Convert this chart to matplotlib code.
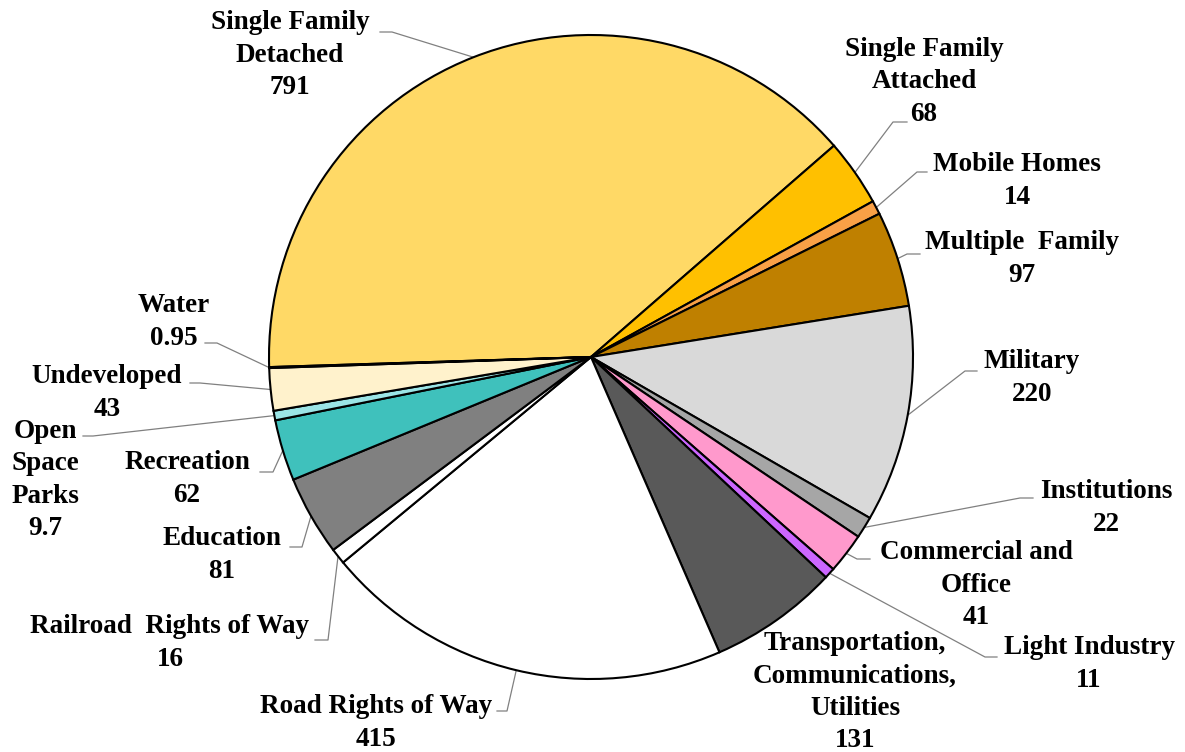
import matplotlib
matplotlib.use("Agg")
import numpy as np
import matplotlib.pyplot as plt

# land use by category (acres), clockwise from the top-left
categories = [
    "Single Family\nDetached", "Single Family\nAttached", "Mobile Homes",
    "Multiple  Family", "Military", "Institutions", "Commercial and\nOffice",
    "Light Industry", "Transportation,\nCommunications,\nUtilities",
    "Road Rights of Way", "Railroad  Rights of Way", "Education",
    "Recreation", "Open\nSpace\nParks", "Undeveloped", "Water",
]
values = [791, 68, 14, 97, 220, 22, 41, 11, 131, 415, 16, 81, 62, 9.7, 43, 0.95]
value_text = ["791", "68", "14", "97", "220", "22", "41", "11", "131",
              "415", "16", "81", "62", "9.7", "43", "0.95"]
colors = [
    "#FFD966", "#FFC000", "#F9A046", "#BF8000", "#D9D9D9", "#A6A6A6",
    "#FF99CC", "#CC66FF", "#595959", "#FFFFFF", "#FFFFFF", "#808080",
    "#3FC1BC", "#9BE5E6", "#FFF2CC", "#BDD7EE",
]

W, H = 1185, 752

# label block centres and leader elbows, in pixels from the top-left
label_pos = [
    (290, 55), (924, 82), (1017, 181), (1022, 259), (1032, 378),
    (1106, 508), (976, 585), (1089, 664), (855, 692), (376, 723),
    (170, 643), (222, 555), (187, 479), (45, 480), (107, 393), (174, 322),
]
leaders = [
    [(380, 32), (392, 32)], [(907, 122), (893, 122)], [(927, 172), (917, 172)],
    [(920, 254), (907, 254)], [(977, 371), (965, 371)], [(1033, 498), (1020, 498)],
    [(870, 559), (857, 559)], [(997, 657), (985, 657)], None,
    [(497, 711), (507, 711)], [(315, 640), (328, 640)], [(290, 547), (302, 547)],
    [(260, 472), (273, 472)], [(83, 436), (93, 436)], [(190, 383), (200, 383)],
    [(205, 343), (217, 343)],
]

fig = plt.figure(figsize=(W / 100, H / 100), dpi=100)
ax = fig.add_axes([0, 0, 1, 1])

cx, cy, r = 591, H - 357, 322
wedges, _ = ax.pie(values, colors=colors, startangle=181.8, counterclock=False,
                   center=(cx, cy), radius=r, frame=True,
                   wedgeprops=dict(edgecolor="black", linewidth=1.5))
ax.set_xlim(0, W)
ax.set_ylim(0, H)
ax.set_aspect("equal")
ax.axis("off")

font = dict(family=["Liberation Serif", "DejaVu Serif"], fontweight="bold", fontsize=19.5)

for i, w in enumerate(wedges):
    x, y = label_pos[i]
    ax.text(x, H - y, f"{categories[i]}\n{value_text[i]}", ha="center", va="center",
            multialignment="center", linespacing=1.4, **font)
    if leaders[i] is None:
        continue
    mid = np.deg2rad((w.theta1 + w.theta2) / 2)
    ex, ey = cx + r * np.cos(mid), cy + r * np.sin(mid)
    xs = [p[0] for p in leaders[i]] + [ex]
    ys = [H - p[1] for p in leaders[i]] + [ey]
    ax.plot(xs, ys, color="#808080", linewidth=0.9, zorder=0.5)

fig.savefig("out.png", dpi=100, facecolor="white")
